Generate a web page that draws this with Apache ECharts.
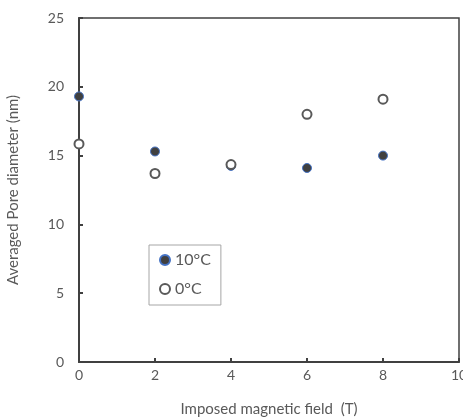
<!DOCTYPE html>
<html>
<head>
<meta charset="utf-8">
<script src="https://cdn.jsdelivr.net/npm/echarts@6/dist/echarts.min.js"></script>
<style>
  html, body { margin: 0; padding: 0; background: #fff; }
  #chart { width: 463px; height: 417px; }
</style>
</head>
<body>
<div id="chart"></div>
<script>
  let fieldT = [0, 2, 4, 6, 8];
  let dia10C = [19.3, 15.3, 14.25, 14.1, 15.0];
  let dia0C = [15.85, 13.7, 14.35, 18.0, 19.1];
  let seriesNames = ["10°C", "0°C"];

  let myChart = echarts.init(document.getElementById("chart"));
  let axisColor = "#404040";
  let textColor = "#595959";
  let font = "Lato, 'Open Sans', sans-serif";

  function pairs(xs, ys) {
    return xs.map(function (x, i) { return [x, ys[i]]; });
  }

  let option = {
    animation: false,
    textStyle: { fontFamily: font },
    grid: {
      left: 79,
      right: 4,
      top: 18,
      bottom: 55,
      outerBoundsMode: "none",
      containLabel: false,
      show: true,
      borderColor: axisColor,
      borderWidth: 1.5
    },
    legend: {
      orient: "vertical",
      left: 149,
      top: 245,
      padding: [7, 10, 8, 10],
      itemGap: 13,
      itemWidth: 10,
      itemHeight: 10,
      borderColor: "#a6a6a6",
      borderWidth: 1,
      textStyle: { color: textColor, fontSize: 16, fontFamily: font },
      data: seriesNames
    },
    xAxis: {
      type: "value",
      min: 0,
      max: 10,
      interval: 2,
      name: "Imposed magnetic field  (T)",
      nameLocation: "middle",
      nameGap: 40,
      nameTextStyle: { color: textColor, fontSize: 15, fontFamily: font },
      splitLine: { show: false },
      axisLine: { lineStyle: { color: axisColor, width: 2 } },
      axisTick: { inside: true, length: 4, lineStyle: { color: axisColor, width: 2 } },
      axisLabel: { color: textColor, fontSize: 14, margin: 6, showMaxLabel: true }
    },
    yAxis: {
      type: "value",
      min: 0,
      max: 25,
      interval: 5,
      name: "Averaged Pore diameter (nm)",
      nameLocation: "middle",
      nameGap: 58,
      nameTextStyle: { color: textColor, fontSize: 15, fontFamily: font },
      splitLine: { show: false },
      axisLine: { show: true, lineStyle: { color: axisColor, width: 2 } },
      axisTick: { show: true, inside: true, length: 4, lineStyle: { color: axisColor, width: 2 } },
      axisLabel: { color: textColor, fontSize: 14, margin: 15 }
    },
    series: [
      {
        name: seriesNames[0],
        type: "scatter",
        symbol: "circle",
        symbolSize: 9,
        itemStyle: { color: "#404040", borderColor: "#4472c4", borderWidth: 1, opacity: 1 },
        data: pairs(fieldT, dia10C),
        z: 2
      },
      {
        name: seriesNames[1],
        type: "scatter",
        symbol: "circle",
        symbolSize: 9,
        itemStyle: { color: "#ffffff", borderColor: "#595959", borderWidth: 2, opacity: 1 },
        data: pairs(fieldT, dia0C),
        z: 3
      }
    ]
  };
  myChart.setOption(option);
  window.addEventListener("resize", function () { myChart.resize(); });
</script>
</body>
</html>
